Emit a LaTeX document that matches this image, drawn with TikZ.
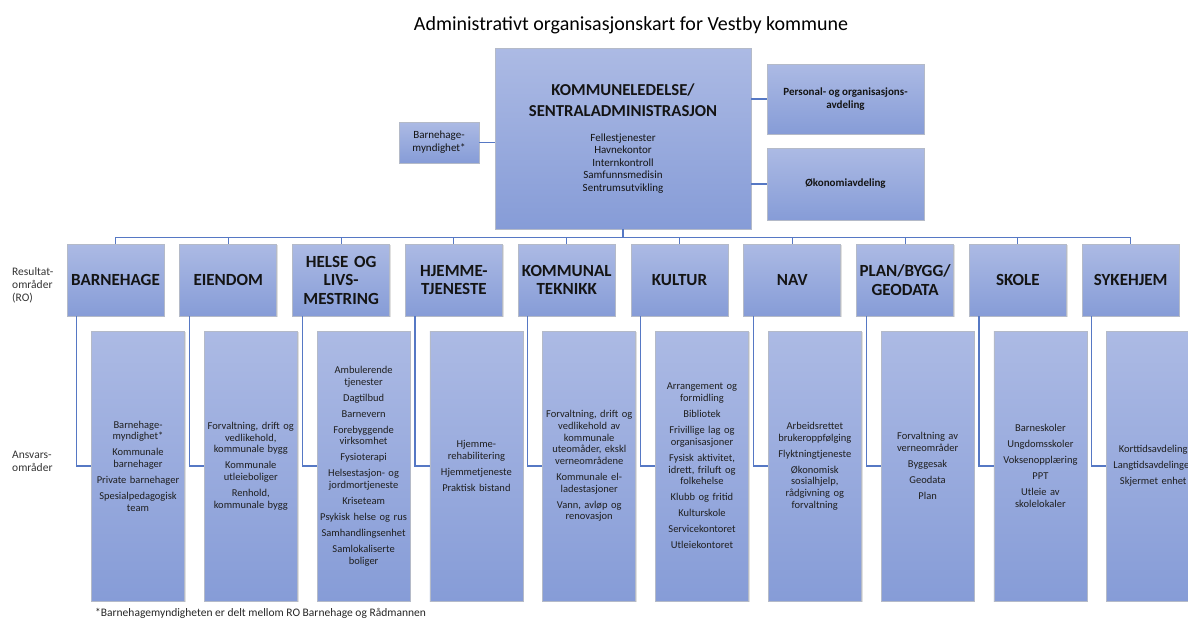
\documentclass[tikz,border=0pt]{standalone}
\usepackage{fontspec}
\setmainfont{Carlito}
\usetikzlibrary{calc,shadows}
\definecolor{boxtop}{RGB}{172,186,228}
\definecolor{boxbot}{RGB}{134,156,215}
\definecolor{boxline}{RGB}{180,186,200}
\definecolor{connblue}{RGB}{86,120,196}
\definecolor{txt}{RGB}{20,20,20}
\begin{document}
\begin{tikzpicture}[x=1pt,y=-1pt,
  orgbox/.style={draw=boxline, line width=0.8pt, top color=boxtop, bottom color=boxbot, inner sep=0pt, align=center, text=txt,
    drop shadow={shadow xshift=1.2pt, shadow yshift=-1.2pt, fill=black, opacity=0.12}},
  robox/.style={orgbox, minimum width=97pt, minimum height=72pt, text width=95pt, font=\fontsize{17}{18.5}\selectfont\bfseries},
  lowbox/.style={orgbox, minimum width=93pt, minimum height=270pt, text width=92pt, font=\fontsize{10.5}{11.7}\selectfont, text=black!88},
  connline/.style={draw=connblue, line width=1.1pt},
  sidelabel/.style={anchor=west, align=left, font=\fontsize{11.5}{13}\selectfont, text=black!80, inner sep=0pt}
]
\useasboundingbox (0,0) rectangle (1188,619);
\clip (0,0) rectangle (1188,619);

\node[font=\fontsize{20}{23}\selectfont, text=black] (title) at (631,25) {Administrativt organisasjonskart for Vestby kommune};

\node[orgbox, minimum width=256pt, minimum height=181pt, text width=250pt] (top) at (623,138.5)
  {{\fontsize{16.7}{21}\selectfont\bfseries KOMMUNELEDELSE/\\SENTRALADMINISTRASJON\par}\vspace{12pt}%
   {\fontsize{11}{12.6}\selectfont Fellestjenester\\Havnekontor\\Internkontroll\\Samfunnsmedisin\\Sentrumsutvikling\par}};

\node[orgbox, minimum width=80pt, minimum height=41pt, font=\fontsize{11}{13}\selectfont] (bm) at (439,142.5) {Barnehage-\\myndighet*};
\node[orgbox, minimum width=157pt, minimum height=70pt, font=\fontsize{11}{13}\selectfont\bfseries] (pers) at (845.5,99) {Personal- og organisasjons-\\avdeling};
\node[orgbox, minimum width=157pt, minimum height=72pt, font=\fontsize{11}{13}\selectfont\bfseries] (oko) at (845.5,184) {Økonomiavdeling};

% RO boxes
\node[robox] (ro0) at (115.5,280) {BARNEHAGE};
\node[robox] (ro1) at (228.3,280) {EIENDOM};
\node[robox] (ro2) at (341.1,280) {HELSE OG\\LIVS-\\MESTRING};
\node[robox] (ro3) at (453.9,280) {HJEMME-\\TJENESTE};
\node[robox] (ro4) at (566.7,280) {KOMMUNAL\\TEKNIKK};
\node[robox] (ro5) at (679.5,280) {KULTUR};
\node[robox] (ro6) at (792.3,280) {NAV};
\node[robox] (ro7) at (905.1,280) {PLAN/BYGG/\\GEODATA};
\node[robox] (ro8) at (1017.9,280) {SKOLE};
\node[robox] (ro9) at (1130.7,280) {SYKEHJEM};

% lower boxes
\node[lowbox] (lo0) at (138.0,466) {Barnehage-\\myndighet*\\[4.3pt]Kommunale\\barnehager\\[4.3pt]Private barnehager\\[4.3pt]Spesialpedagogisk\\team};
\node[lowbox] (lo1) at (250.8,466) {Forvaltning, drift og\\vedlikehold,\\kommunale bygg\\[4.3pt]Kommunale\\utleieboliger\\[4.3pt]Renhold,\\kommunale bygg};
\node[lowbox] (lo2) at (363.6,466) {Ambulerende\\tjenester\\[4.3pt]Dagtilbud\\[4.3pt]Barnevern\\[4.3pt]Forebyggende\\virksomhet\\[4.3pt]Fysioterapi\\[4.3pt]Helsestasjon- og\\jordmortjeneste\\[4.3pt]Kriseteam\\[4.3pt]Psykisk helse og rus\\[4.3pt]Samhandlingsenhet\\[4.3pt]Samlokaliserte\\boliger};
\node[lowbox] (lo3) at (476.4,466) {Hjemme-\\rehabilitering\\[4.3pt]Hjemmetjeneste\\[4.3pt]Praktisk bistand};
\node[lowbox] (lo4) at (589.2,466) {Forvaltning, drift og\\vedlikehold av\\kommunale\\uteomåder, ekskl\\verneområdene\\[4.3pt]Kommunale el-\\ladestasjoner\\[4.3pt]Vann, avløp og\\renovasjon};
\node[lowbox] (lo5) at (702.0,466) {Arrangement og\\formidling\\[4.3pt]Bibliotek\\[4.3pt]Frivillige lag og\\organisasjoner\\[4.3pt]Fysisk aktivitet,\\idrett, friluft og\\folkehelse\\[4.3pt]Klubb og fritid\\[4.3pt]Kulturskole\\[4.3pt]Servicekontoret\\[4.3pt]Utleiekontoret};
\node[lowbox] (lo6) at (814.8,466) {Arbeidsrettet\\brukeroppfølging\\[4.3pt]Flyktningtjeneste\\[4.3pt]Økonomisk\\sosialhjelp,\\rådgivning og\\forvaltning};
\node[lowbox] (lo7) at (927.6,466) {Forvaltning av\\verneområder\\[4.3pt]Byggesak\\[4.3pt]Geodata\\[4.3pt]Plan};
\node[lowbox] (lo8) at (1040.4,466) {Barneskoler\\[4.3pt]Ungdomsskoler\\[4.3pt]Voksenopplæring\\[4.3pt]PPT\\[4.3pt]Utleie av\\skolelokaler};
\node[lowbox] (lo9) at (1153.2,466) {Korttidsavdeling\\[4.3pt]Langtidsavdelinger\\[4.3pt]Skjermet enhet};

% side labels
\node[sidelabel] (lblro) at (12,285) {Resultat-\\områder\\(RO)};
\node[sidelabel] (lblans) at (12,461) {Ansvars-\\områder};
\node[anchor=west, inner sep=0pt, font=\fontsize{11.5}{13}\selectfont, text=black!85] (foot) at (95,613) {*Barnehagemyndigheten er delt mellom RO Barnehage og Rådmannen};

% connectors
\draw[connline] (bm.east) -- (bm.east -| top.west);
\draw[connline] (pers.west) -- (pers.west -| top.east);
\draw[connline] (oko.west) -- (oko.west -| top.east);
\foreach \i in {0,...,9}{
  \draw[connline] (top.south) -- ++(0,8) -| (ro\i.north);
  \draw[connline] ([xshift=10pt]ro\i.south west) |- (lo\i.west);
}
\end{tikzpicture}
\end{document}
